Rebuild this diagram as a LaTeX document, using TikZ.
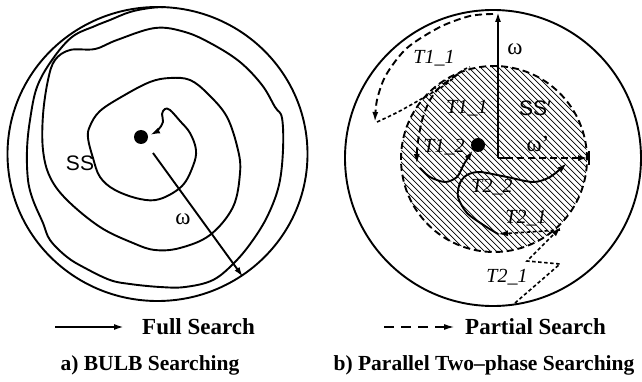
\documentclass[tikz,border=0pt]{standalone}
\usepackage{fontspec}
\setmainfont{Liberation Serif}
\newfontfamily\sansf{Liberation Sans}
\usetikzlibrary{arrows.meta,calc}
\begin{document}
\begin{tikzpicture}[x=1pt,y=-1pt,
  curve/.style={line width=1.9pt,line join=round,line cap=round},
  dcurve/.style={line width=1.9pt,dash pattern=on 7pt off 4pt},
  scurve/.style={line width=1.6pt,dash pattern=on 3.5pt off 2.5pt},
  tip/.style={-{Latex[length=10pt,width=6pt]}},
  rtip/.style={{Latex[length=10pt,width=6pt]}-},
  dotn/.style={circle,fill=black,minimum size=14pt,inner sep=0pt},
  hatch/.style={line width=0.7pt},
  tl/.style={font=\itshape\fontsize{20}{20}\selectfont,inner sep=0pt},
  om/.style={font=\fontsize{23}{23}\selectfont,inner sep=0pt},
  ssl/.style={font=\sansf\fontsize{21}{21}\selectfont,inner sep=0pt},
  leg/.style={font=\bfseries\fontsize{23}{23}\selectfont,inner sep=0pt,anchor=west},
  captext/.style={font=\bfseries\fontsize{21.5}{21.5}\selectfont,inner sep=0pt}]
\useasboundingbox (0,0) rectangle (642,382);
% ---------- left panel ----------
\coordinate (lc) at (157.5,154);
\draw[curve] (lc) ellipse (150pt and 147pt);
\node[dotn] (d1) at (141,137) {};
\coordinate (s0) at (150,135);
\coordinate (s1) at (165,7);
\draw[curve,rtip] plot[smooth,tension=0.6] coordinates {(s0) (158,130) (163,122) (162,114) (165,109) (170,110) (180,121) (190,133) (196,150) (193,166) (182,186) (160,199) (140,199) (115,190) (100,177) (93,158) (88,138) (90,126) (100,111) (123,96) (150,82) (170,78) (190,80) (208,94) (227,117) (238,150) (240,173) (233,207) (210,235) (180,248) (155,250) (133,243) (100,227) (67,200) (50,177) (43,150) (43,115) (48,80) (55,60) (70,50) (95,49) (117,40) (155,28) (185,32) (212,44) (240,62) (262,85) (275,107) (282,118) (283,150) (279,185) (268,215) (253,240) (235,262) (213,280) (185,287) (160,287) (130,284) (110,280) (85,268) (67,257) (50,240) (43,223) (33,200) (28,180) (27,150) (30,120) (37,87) (52,60) (72,37) (95,26) (110,20) (130,12) (150,8) (s1)};
\coordinate (wa) at (153,153);
\coordinate (wb) at (243,277);
\draw[line width=1.9pt,tip] (wa) -- (wb);
\node[ssl] (ssa) at (80,163) {SS};
\node[om] (wla) at (183,219) {ω};
% ---------- right panel ----------
\coordinate (rc) at (493,158);
\draw[curve] (rc) circle (148pt);
\coordinate (ss) at (494,159);
\begin{scope}
\clip (ss) circle (93pt);
\foreach \k in {-24,...,24} \draw[hatch] ($(ss)+(\k*6-130,-130)$) -- ++(260,260);
\end{scope}
\draw[dcurve] (ss) circle (93pt);
\coordinate (vo) at (498,158);
\coordinate (vt) at (498,12);
\draw[line width=1.9pt,tip] (vo) -- (vt);
\coordinate (he) at (588,158);
\draw[line width=1.9pt] (vo) -- ++(8,0);
\draw[dcurve,-{Latex[length=10pt,width=6pt]}] (506,158) -- (he);
\draw[line width=1.9pt] (589,151) -- (589,165);
\node[dotn] (d2) at (478,145) {};
% T1_1 outer
\coordinate (a0) at (493,14);
\coordinate (a1) at (375,122);
\draw[dcurve,-{Latex[length=10pt,width=6pt]}] plot[smooth] coordinates {(a0) (470,16) (440,27) (407,48) (386,75) (377,100) (a1)};
\coordinate (a2) at (458,74);
\draw[scurve] plot[smooth] coordinates {(377,122) (398,112) (423,98) (445,85) (a2) (463,70) (470,67)};
% T1_1 inner
\coordinate (b1) at (417,164);
\draw[dcurve,-{Latex[length=10pt,width=6pt]}] plot[smooth] coordinates {(a2) (440,87) (430,100) (423,117) (419,135) (417,150) (b1)};
% T1_2 solid
\draw[curve,tip] plot[smooth] coordinates {(420,168) (430,177) (445,182) (457,177) (464,164) (d2.south west)};
% T2_2 solid
\coordinate (c0) at (498,234);
\coordinate (c1) at (567,163);
\draw[curve,tip] plot[smooth] coordinates {(c0) (485,226) (467,213) (458,197) (460,183) (467,175) (480,172) (507,177) (533,182) (550,177) (c1)};
% T2_1 inner dashed
\coordinate (e0) at (560,230);
\draw[scurve,-{Latex[length=10pt,width=6pt]}] (e0) -- (c0);
% T2_1 outer dotted
\coordinate (f0) at (515,303);
\coordinate (f1) at (561,227);
\draw[scurve,-{Latex[length=10pt,width=6pt]}] (f0) -- (560,264) -- (527,261) -- (540,248) -- (f1);
% labels
\node[om] (w2) at (515,49) {ω};
\node[om] (w3) at (538,144) {ω’};
\node[ssl] (ssb) at (535,108) {SS′};
\node[tl] (t11o) at (434,58) {T1\_1};
\node[tl] (t11i) at (467,108) {T1\_1};
\node[tl] (t12) at (444,147) {T1\_2};
\node[tl] (t22) at (492,187) {T2\_2};
\node[tl] (t21i) at (526,218) {T2\_1};
\node[tl] (t21o) at (507,277) {T2\_1};
% ---------- legend ----------
\coordinate (la) at (55,327);
\coordinate (lb) at (124,327);
\draw[line width=1.9pt,tip] (la) -- (lb);
\node[leg] (lfull) at (142,327) {Full Search};
\coordinate (ra) at (384,327);
\coordinate (rb) at (455,327);
\draw[line width=1.9pt,dash pattern=on 10pt off 7pt,-{Latex[length=11pt,width=6pt]}] (ra) -- (rb);
\node[leg] (lpart) at (465,327) {Partial Search};
\node[captext] (capa) at (150,365) {a) BULB Searching};
\node[captext] (capb) at (484,365) {b) Parallel Two–phase Searching};
\end{tikzpicture}
\end{document}
